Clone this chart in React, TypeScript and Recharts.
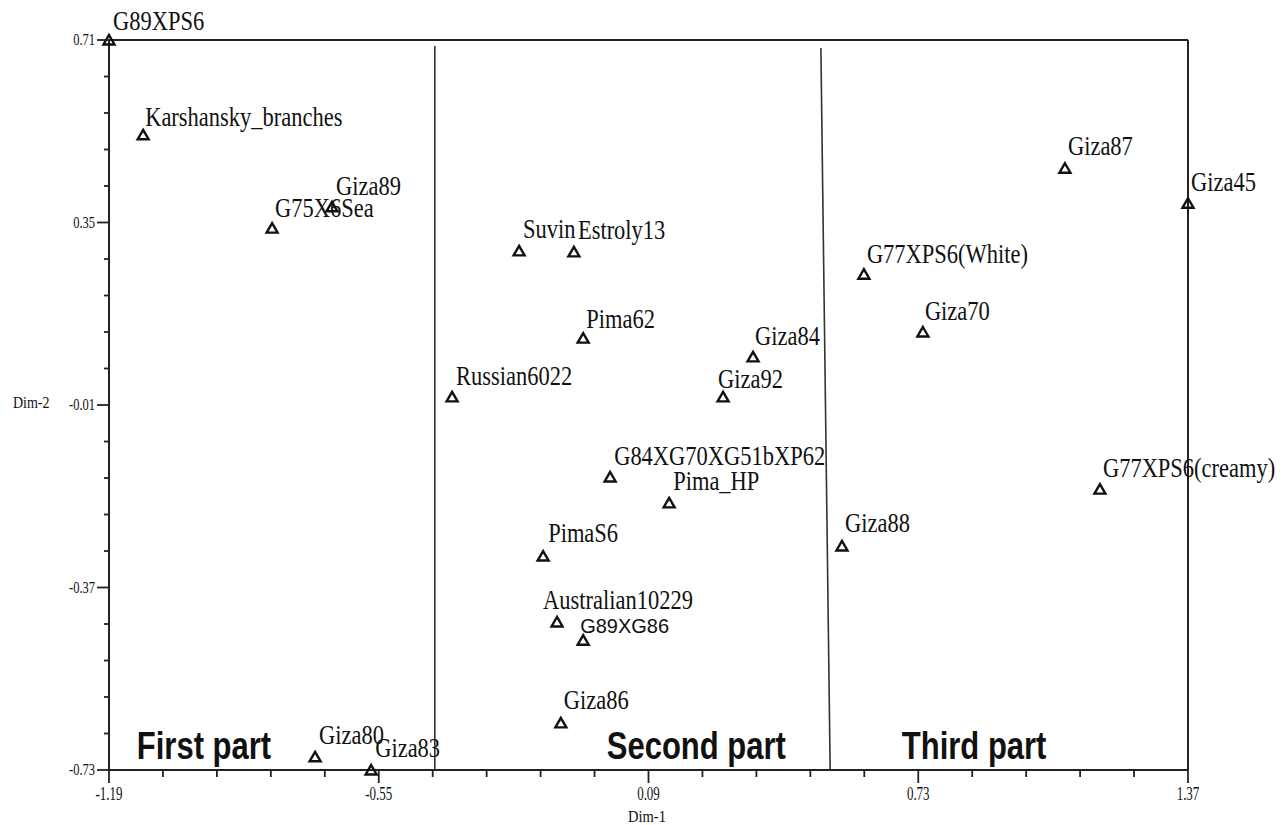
import React from "react";
import { ScatterChart, Scatter, XAxis, YAxis, ReferenceLine, ReferenceDot } from "recharts";

const names = [
  "G89XPS6", "Karshansky_branches", "Giza89", "G75X6Sea", "Giza80", "Giza83",
  "Suvin", "Estroly13", "Pima62", "Russian6022", "Giza84", "Giza92",
  "G84XG70XG51bXP62", "Pima_HP", "PimaS6", "Australian10229", "G89XG86", "Giza86",
  "G77XPS6(White)", "Giza70", "Giza87", "Giza45", "G77XPS6(creamy)", "Giza88",
];
const dim1 = [
  -1.19, -1.109, -0.661, -0.803, -0.701, -0.568,
  -0.217, -0.087, -0.065, -0.376, 0.338, 0.267,
  -0.001, 0.139, -0.16, -0.127, -0.065, -0.118,
  0.601, 0.741, 1.078, 1.37, 1.161, 0.549,
];
const dim2 = [
  0.71, 0.523, 0.381, 0.339, -0.704, -0.73,
  0.294, 0.292, 0.122, 0.006, 0.085, 0.006,
  -0.152, -0.203, -0.308, -0.438, -0.474, -0.637,
  0.248, 0.134, 0.457, 0.388, -0.176, -0.288,
];

const xTicks = [
  -1.19, -1.062, -0.934, -0.806, -0.678, -0.55, -0.422, -0.294, -0.166, -0.038,
  0.09, 0.218, 0.346, 0.474, 0.602, 0.73, 0.858, 0.986, 1.114, 1.242, 1.37,
];
const xTickLabels = ["-1.19", "-0.55", "0.09", "0.73", "1.37"];
const yTicks = [
  -0.73, -0.658, -0.586, -0.514, -0.442, -0.37, -0.298, -0.226, -0.154, -0.082,
  -0.01, 0.062, 0.134, 0.206, 0.278, 0.35, 0.422, 0.494, 0.566, 0.638, 0.71,
];
const yTickLabels = ["-0.73", "-0.37", "-0.01", "0.35", "0.71"];

const partNames = ["First part", "Second part", "Third part"];
const partX = [-1.124, -0.009, 0.691];
const partY = [-0.708, -0.708, -0.708];

const divider1 = [
  { x: -0.417, y: 0.698 },
  { x: -0.417, y: -0.73 },
];
const divider2 = [
  { x: 0.499, y: 0.694 },
  { x: 0.521, y: -0.73 },
];

const points = names.map((name, i) => ({ name, x: dim1[i], y: dim2[i] }));

// label nudges (pixels) relative to marker centre
const NUDGE: Record<string, [number, number]> = {
  G89XPS6: [4, -10],
  Karshansky_branches: [2, -9],
  Giza89: [4, -12],
  G75X6Sea: [3, -11],
  Giza80: [4, -13],
  Giza83: [4, -13],
  Suvin: [4, -13],
  Estroly13: [4, -13],
  Pima62: [3, -10],
  Russian6022: [4, -12],
  Giza84: [2, -12],
  Giza92: [-5, -9],
  G84XG70XG51bXP62: [4, -12],
  Pima_HP: [4, -13],
  PimaS6: [5, -14],
  Australian10229: [-14, -13],
  G89XG86: [-3, -7],
  Giza86: [3, -14],
  "G77XPS6(White)": [3, -11],
  Giza70: [2, -12],
  Giza87: [3, -13],
  Giza45: [3, -12],
  "G77XPS6(creamy)": [3, -12],
  Giza88: [3, -14],
};

const SERIF = "Liberation Serif, Times New Roman, serif";
const SANS = "Liberation Sans, Arial, sans-serif";

const PointShape = (props: any) => {
  const { cx, cy, payload } = props;
  if (cx == null || cy == null) return null;
  const name: string = payload.name;
  const [dx, dy] = NUDGE[name] || [3, -12];
  const sans = name === "G89XG86";
  return (
    <g>
      <path
        d={`M${cx},${cy - 5} L${cx + 5.5},${cy + 4.5} L${cx - 5.5},${cy + 4.5} Z`}
        fill="none"
        stroke="#111"
        strokeWidth={2.4}
      />
      <text
        transform={`translate(${cx + dx},${cy + dy}) scale(1,${sans ? 1.05 : 1.17})`}
        style={{ fontFamily: sans ? SANS : SERIF, fontSize: sans ? 20 : 22.5 }}
        fill="#111"
      >
        {name}
      </text>
    </g>
  );
};

const XTick = (props: any) => {
  const { x, y, payload } = props;
  const v = payload.value;
  const label = xTickLabels.find((l) => Math.abs(parseFloat(l) - v) < 1e-6);
  return (
    <g>
      <line x1={x} x2={x} y1={y} y2={y + (label ? 13 : 7)} stroke="#222" strokeWidth={1.8} />
      {label && (
        <text
          transform={`translate(${x},${y + 30}) scale(1,1.4)`}
          textAnchor="middle"
          style={{ fontFamily: SERIF, fontSize: 13 }}
          fill="#111"
        >
          {label}
        </text>
      )}
    </g>
  );
};

const YTick = (props: any) => {
  const { x, y, payload } = props;
  const v = payload.value;
  const label = yTickLabels.find((l) => Math.abs(parseFloat(l) - v) < 1e-6);
  return (
    <g>
      <line x1={x - (label ? 12 : 5)} x2={x} y1={y} y2={y} stroke="#222" strokeWidth={1.8} />
      {label && (
        <text
          transform={`translate(${x - 14},${y + 5}) scale(1,1.4)`}
          textAnchor="end"
          style={{ fontFamily: SERIF, fontSize: 12.5 }}
          fill="#111"
        >
          {label}
        </text>
      )}
    </g>
  );
};

const PartLabel = (text: string) => (props: any) => {
  const { cx, cy } = props;
  return (
    <text
      transform={`translate(${cx},${cy}) scale(1,1.23)`}
      style={{ fontFamily: SANS, fontWeight: 700, fontSize: 31 }}
      fill="#111"
    >
      {text}
    </text>
  );
};

export default function App() {
  return (
    <div style={{ position: "absolute", left: 0, top: 0, width: 1287, height: 825, background: "#fff" }}>
      <ScatterChart
        width={1287}
        height={825}
        margin={{ top: 40, right: 99, bottom: 15, left: 49 }}
      >
        <XAxis
          type="number"
          dataKey="x"
          domain={[-1.19, 1.37]}
          ticks={xTicks}
          interval={0}
          height={40}
          tickSize={0}
          tickMargin={0}
          tickLine={false}
          axisLine={{ stroke: "#222", strokeWidth: 2 }}
          tick={<XTick />}
        />
        <YAxis
          type="number"
          dataKey="y"
          domain={[-0.73, 0.71]}
          ticks={yTicks}
          interval={0}
          width={60}
          tickSize={0}
          tickMargin={0}
          tickLine={false}
          axisLine={{ stroke: "#222", strokeWidth: 2 }}
          tick={<YTick />}
        />
        <ReferenceLine y={0.71} stroke="#222" strokeWidth={2} />
        <ReferenceLine x={1.37} stroke="#222" strokeWidth={2} />
        <ReferenceLine segment={divider1} stroke="#333" strokeWidth={1.6} />
        <ReferenceLine segment={divider2} stroke="#333" strokeWidth={1.6} />
        {partNames.map((p, i) => (
          <ReferenceDot key={p} x={partX[i]} y={partY[i]} r={0} shape={PartLabel(p)} />
        ))}
        <Scatter data={points} shape={PointShape} isAnimationActive={false} />
      </ScatterChart>
      <svg
        width={1287}
        height={825}
        style={{ position: "absolute", left: 0, top: 0, pointerEvents: "none" }}
      >
        <text
          transform="translate(13,408) scale(1,1.2)"
          style={{ fontFamily: SERIF, fontSize: 14 }}
          fill="#111"
        >
          Dim-2
        </text>
        <text
          transform="translate(647,822) scale(1,1.2)"
          textAnchor="middle"
          style={{ fontFamily: SERIF, fontSize: 14.5 }}
          fill="#111"
        >
          Dim-1
        </text>
      </svg>
    </div>
  );
}
